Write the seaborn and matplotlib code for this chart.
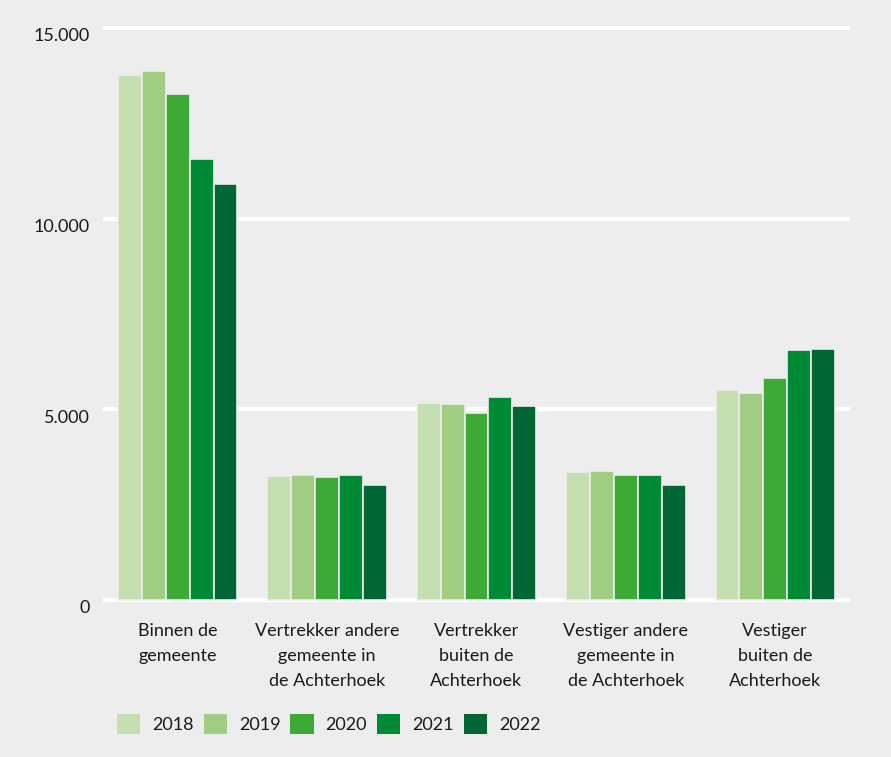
import matplotlib
matplotlib.use("Agg")
import matplotlib.pyplot as plt
import matplotlib.transforms as mtransforms
import seaborn as sns
import pandas as pd
from matplotlib.patches import Patch
from matplotlib.ticker import FuncFormatter

categories = ["Binnen de\ngemeente",
              "Vertrekker andere\ngemeente in\nde Achterhoek",
              "Vertrekker\nbuiten de\nAchterhoek",
              "Vestiger andere\ngemeente in\nde Achterhoek",
              "Vestiger\nbuiten de\nAchterhoek"]
years = ["2018", "2019", "2020", "2021", "2022"]
v2018 = [13760, 3250, 5165, 3355, 5505]
v2019 = [13870, 3275, 5140, 3380, 5430]
v2020 = [13265, 3225, 4905, 3275, 5820]
v2021 = [11565, 3275, 5320, 3275, 6555]
v2022 = [10905, 3015, 5085, 3015, 6580]
colors = ["#c4dfb0", "#a0cc84", "#3caa35", "#008a36", "#006633"]

series = [v2018, v2019, v2020, v2021, v2022]
rows = []
for y, vals in zip(years, series):
    for c, v in zip(categories, vals):
        rows.append({"cat": c, "year": y, "value": v})
df = pd.DataFrame(rows)

bg = "#ededed"
txt = "#1a1a1a"
sns.set_style("white")
plt.rcParams["font.family"] = ["Lato", "DejaVu Sans"]

fig = plt.figure(figsize=(8.91, 7.57), dpi=100, facecolor=bg)
ax = fig.add_axes([103/891, 1 - 601.9/757, (850-103)/891, (601.9-24.1)/757])
ax.set_facecolor(bg)

sns.barplot(data=df, x="cat", y="value", hue="year", palette=colors,
            width=0.8, edgecolor=bg, linewidth=1.2, saturation=1,
            order=categories, hue_order=years, ax=ax, legend=False, zorder=3)

ax.set_xlim(-0.5, 4.5)
ax.set_ylim(-50, 15100)
ax.set_yticks([0, 5000, 10000, 15000])
ax.yaxis.set_major_formatter(FuncFormatter(lambda v, p: f"{int(v):,}".replace(",", ".")))
ax.yaxis.grid(True, color="white", linewidth=3, zorder=0)
ax.set_axisbelow(True)
for s in ax.spines.values():
    s.set_visible(False)
ax.tick_params(axis="both", length=0, labelsize=13, colors=txt)
ax.tick_params(axis="y", pad=9.5)
ax.tick_params(axis="x", pad=15)
ax.set_xlabel("")
ax.set_ylabel("")

offset = mtransforms.ScaledTranslation(0, -7/100, fig.dpi_scale_trans)
for lab in ax.get_yticklabels():
    lab.set_transform(lab.get_transform() + offset)
for lab in ax.get_xticklabels():
    lab.set_linespacing(1.72)
    lab.set_verticalalignment("top")

handles = [Patch(facecolor=c, edgecolor="none") for c in colors]
fig.legend(handles, years, loc="center left",
           bbox_to_anchor=(117/891, 1 - 724/757), ncol=5, frameon=False,
           fontsize=13, handlelength=1.28, handleheight=1.28,
           handletextpad=0.67, columnspacing=0.55, borderpad=0, borderaxespad=0,
           labelcolor=txt)

fig.savefig("out.png", dpi=100, facecolor=bg)
